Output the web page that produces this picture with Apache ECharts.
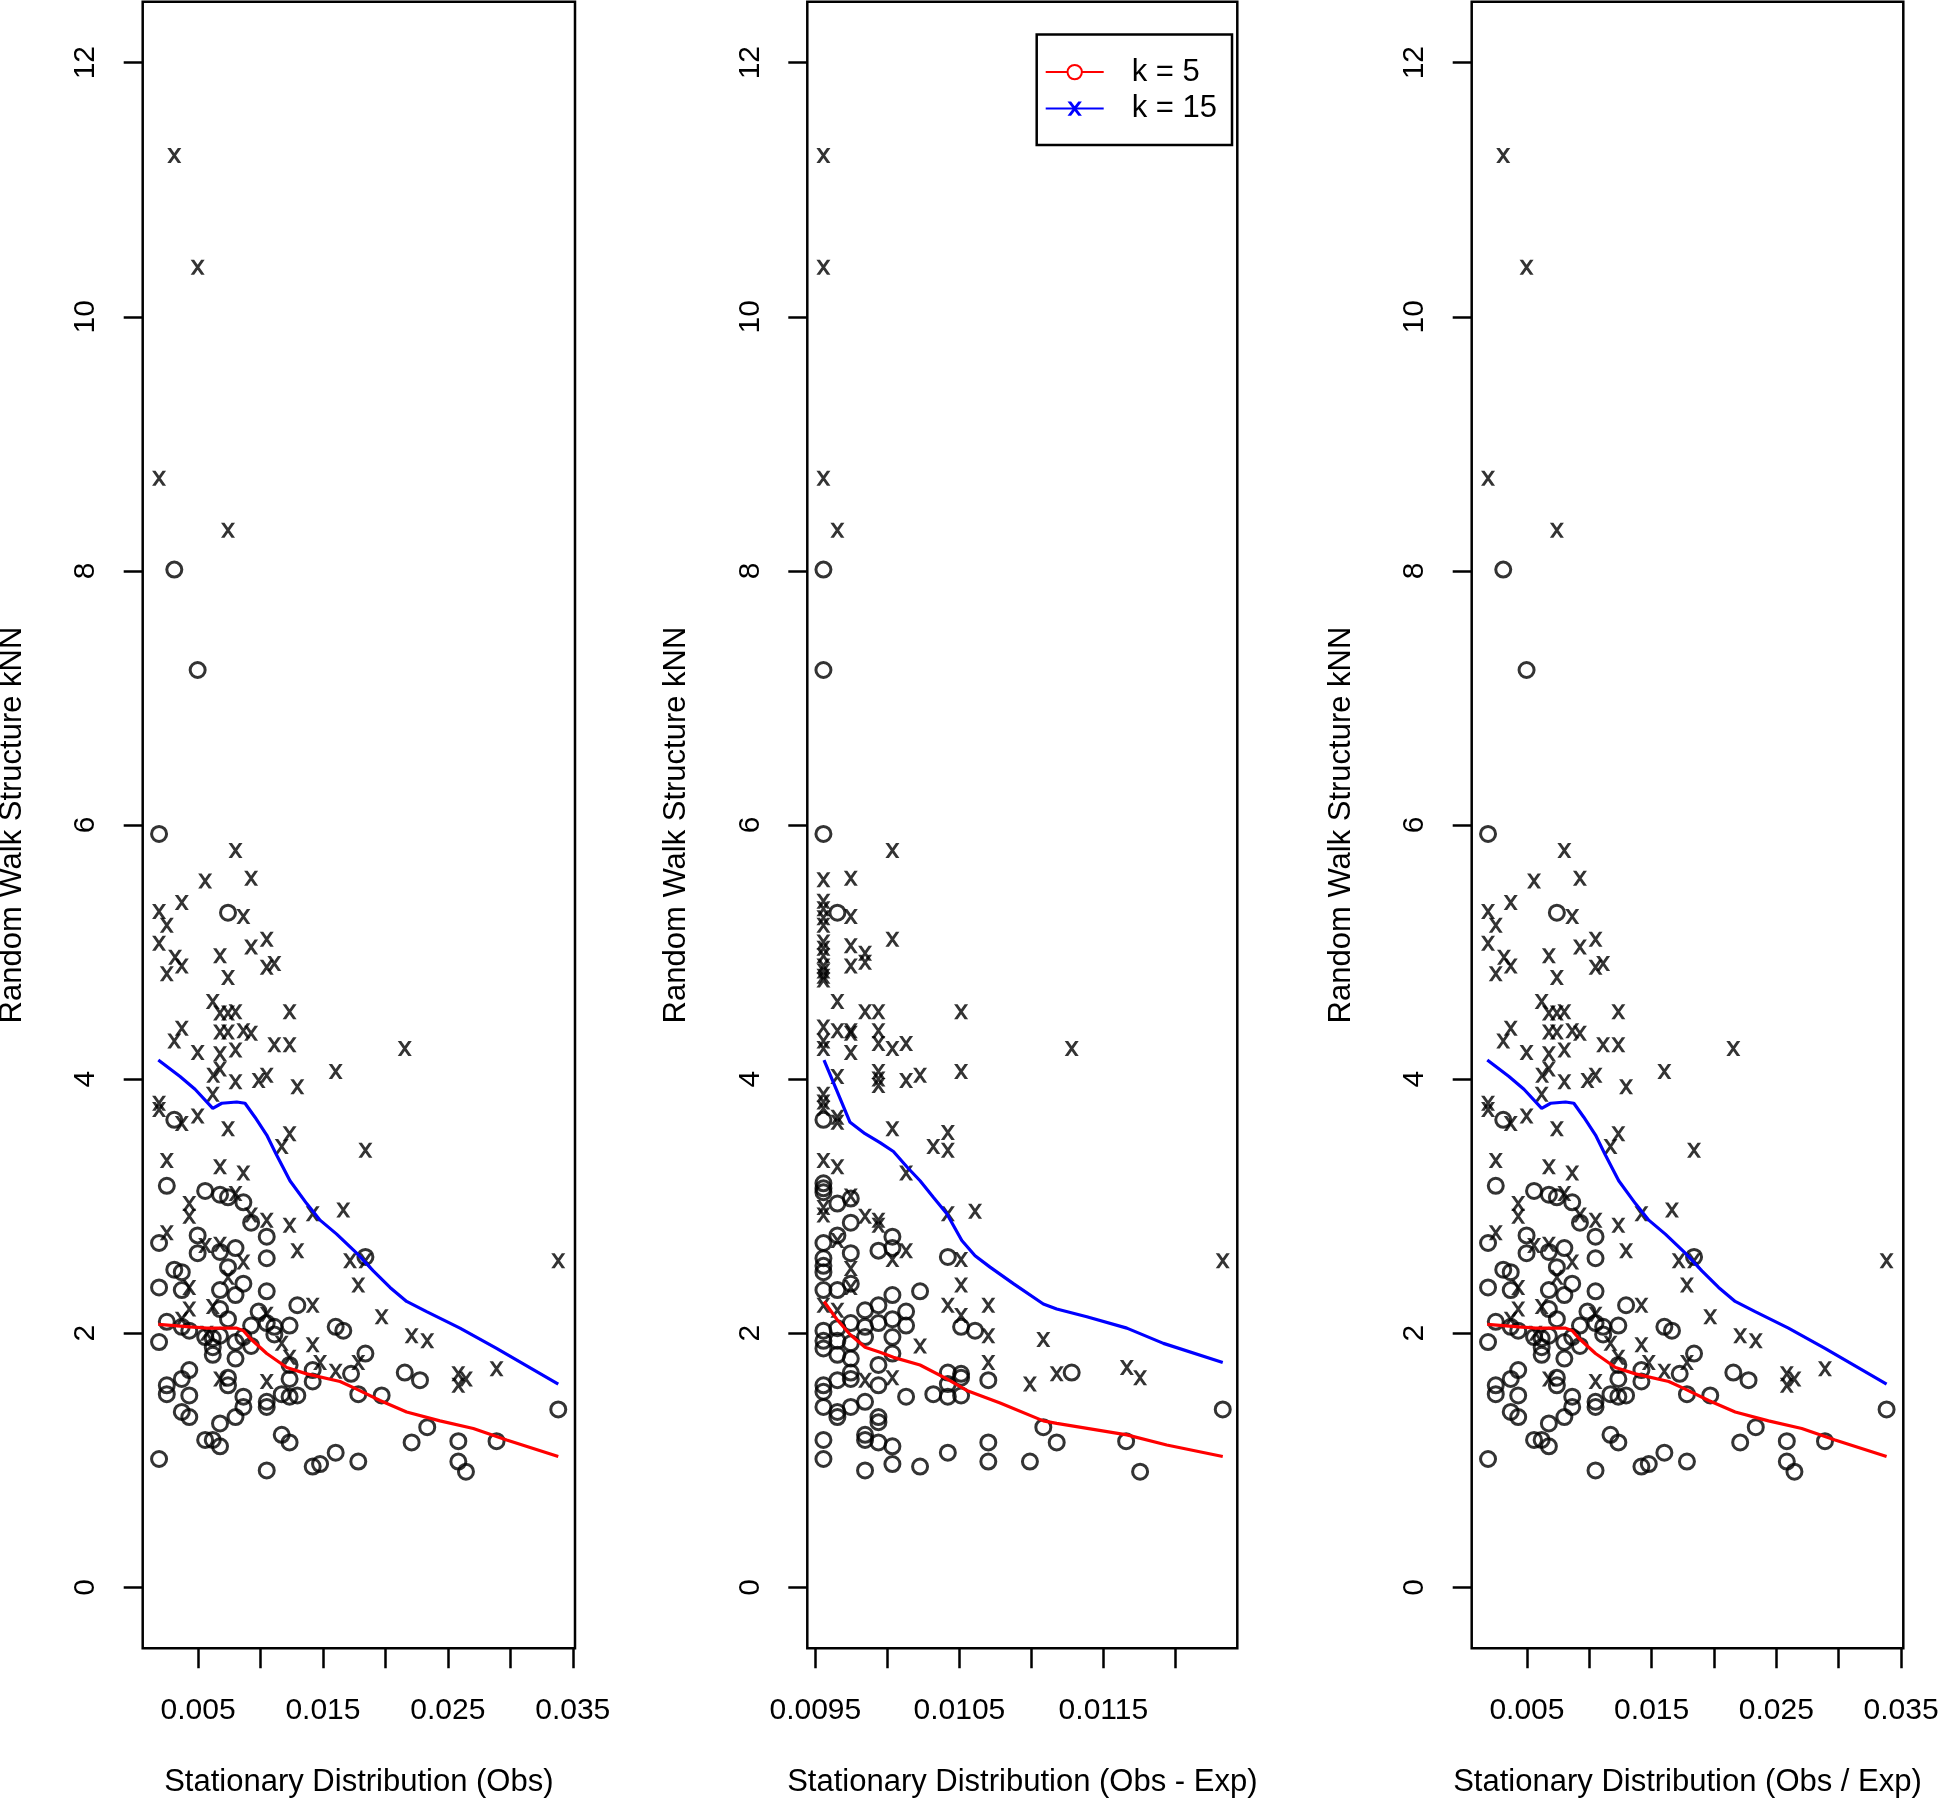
<!DOCTYPE html>
<html><head><meta charset="utf-8">
<script src="https://cdn.jsdelivr.net/npm/echarts@6/dist/echarts.min.js"></script>
<style>html,body{margin:0;padding:0;background:#fff}#c{width:1940px;height:1799px}</style>
</head><body><div id="c"></div>
<script>
// ---------- data: Obs panel (also Obs / Exp panel, identical picture) ----------
const obsCircleX = [0.0031,0.00497,0.00188,0.0074,0.0031,0.0025,0.00557,0.00676,0.0074,0.00863,0.00925,0.0105,0.00188,0.00497,0.00676,0.008,0.00497,0.0105,0.0074,0.0031,0.0037,0.0184,0.00188,0.0037,0.00676,0.00863,0.008,0.0105,0.00676,0.01295,0.0025,0.0037,0.0043,0.0074,0.00985,0.00925,0.0105,0.01111,0.01233,0.01602,0.01663,0.00557,0.00618,0.00676,0.00188,0.008,0.00863,0.00925,0.00618,0.00618,0.008,0.01111,0.0184,0.01233,0.01725,0.01418,0.02155,0.02277,0.0043,0.0037,0.0025,0.0025,0.0043,0.0074,0.0074,0.01233,0.01418,0.00863,0.00863,0.0105,0.0105,0.0117,0.01233,0.01295,0.01783,0.0197,0.0037,0.0043,0.008,0.00676,0.03384,0.02335,0.00557,0.00618,0.00676,0.0117,0.01233,0.0221,0.02584,0.0289,0.00188,0.01602,0.01783,0.02584,0.02645,0.0105,0.01418,0.01477];
const obsCircleY = [8.01,7.22,5.93,5.31,3.68,3.16,3.12,3.09,3.07,3.03,2.87,2.76,2.71,2.77,2.64,2.67,2.63,2.59,2.52,2.50,2.48,2.60,2.36,2.34,2.34,2.39,2.30,2.33,2.19,2.22,2.09,2.05,2.02,2.11,2.17,2.06,2.08,2.05,2.06,2.05,2.02,1.97,1.96,1.98,1.93,1.93,1.97,1.90,1.89,1.83,1.80,1.99,1.84,1.75,1.68,1.71,1.69,1.63,1.71,1.64,1.59,1.52,1.51,1.65,1.59,1.64,1.62,1.50,1.42,1.46,1.42,1.52,1.50,1.51,1.52,1.51,1.38,1.34,1.34,1.29,1.40,1.26,1.16,1.16,1.11,1.20,1.14,1.14,1.15,1.15,1.01,1.06,0.99,0.99,0.91,0.92,0.95,0.97];
const obsCrossX = [0.0031,0.00497,0.00188,0.0074,0.008,0.00557,0.00925,0.0037,0.00188,0.00863,0.0025,0.00188,0.0105,0.00925,0.00676,0.00316,0.0037,0.0025,0.0074,0.0105,0.01111,0.00618,0.00676,0.0074,0.008,0.01233,0.0037,0.0031,0.00676,0.0074,0.00863,0.00925,0.01111,0.01233,0.00497,0.00676,0.008,0.02155,0.00622,0.00676,0.008,0.00985,0.0105,0.01295,0.01602,0.00618,0.00188,0.00188,0.0037,0.00497,0.0074,0.01233,0.0117,0.0184,0.0025,0.00676,0.00863,0.008,0.0043,0.0043,0.00925,0.0105,0.01233,0.01418,0.01663,0.0025,0.00557,0.00676,0.01295,0.00863,0.01717,0.0184,0.0074,0.0043,0.01783,0.0043,0.00618,0.01418,0.0197,0.0037,0.0105,0.0221,0.02335,0.0057,0.0117,0.01233,0.01418,0.01783,0.01477,0.01602,0.02584,0.02645,0.02584,0.0289,0.00676,0.0105,0.03384];
const obsCrossY = [11.27,10.39,8.73,8.32,5.80,5.56,5.58,5.39,5.32,5.28,5.21,5.07,5.10,5.04,4.97,4.96,4.89,4.83,4.80,4.88,4.91,4.61,4.52,4.52,4.53,4.53,4.40,4.30,4.37,4.37,4.38,4.36,4.27,4.27,4.21,4.20,4.23,4.24,4.03,4.08,3.98,3.99,4.03,3.94,4.06,3.88,3.81,3.76,3.65,3.71,3.61,3.57,3.47,3.44,3.36,3.31,3.26,3.10,3.02,2.92,2.93,2.89,2.85,2.94,2.97,2.79,2.69,2.70,2.65,2.56,2.57,2.57,2.44,2.36,2.38,2.19,2.21,2.22,2.13,2.11,2.15,1.98,1.94,2.00,1.92,1.81,1.91,1.77,1.77,1.70,1.68,1.64,1.59,1.72,1.64,1.62,2.57];
const obsLine5X = [0.00182,0.00436,0.0057,0.0081,0.00863,0.00916,0.0105,0.0121,0.0137,0.01637,0.0177,0.01957,0.0217,0.02437,0.02704,0.02971,0.03384];
const obsLine5Y = [2.07,2.05,2.04,2.04,2.02,1.96,1.84,1.73,1.68,1.62,1.56,1.47,1.38,1.31,1.25,1.16,1.03];
const obsLine15X = [0.00182,0.00356,0.00476,0.00618,0.0069,0.0081,0.00876,0.00956,0.0105,0.0113,0.01236,0.0137,0.01477,0.0161,0.0177,0.01903,0.02037,0.0217,0.0233,0.02597,0.0289,0.03384];
const obsLine15Y = [4.15,4.02,3.92,3.77,3.81,3.82,3.81,3.70,3.56,3.40,3.20,3.02,2.89,2.78,2.63,2.49,2.36,2.25,2.17,2.04,1.88,1.60];

// ---------- data: Obs - Exp panel ----------
const diffCircleX = [0.009556,0.009556,0.009556,0.009653,0.009556,0.009556,0.009556,0.009556,0.009746,0.009653,0.009746,0.009653,0.010035,0.009556,0.009938,0.010035,0.009746,0.009556,0.009556,0.009556,0.01042,0.009556,0.009653,0.009746,0.010035,0.010227,0.009938,0.009845,0.01013,0.010035,0.01013,0.010512,0.010609,0.009556,0.009653,0.009746,0.009845,0.009845,0.009938,0.010035,0.009556,0.009556,0.009653,0.009746,0.009653,0.010035,0.009746,0.009938,0.009746,0.009746,0.01042,0.010512,0.010512,0.01128,0.009653,0.010701,0.01042,0.009556,0.009556,0.009556,0.009938,0.01013,0.010319,0.01042,0.010512,0.009845,0.009746,0.009653,0.009653,0.009938,0.009938,0.012329,0.011083,0.009556,0.009845,0.009845,0.009938,0.010035,0.010701,0.011176,0.011658,0.01042,0.009556,0.010701,0.01099,0.010035,0.009845,0.010227,0.011755];
const diffCircleY = [8.01,7.22,5.93,5.31,3.68,3.18,3.14,3.11,3.06,3.02,2.87,2.77,2.76,2.71,2.65,2.67,2.63,2.59,2.53,2.48,2.60,2.34,2.34,2.39,2.30,2.33,2.22,2.18,2.17,2.11,2.06,2.05,2.02,2.02,2.04,2.08,2.05,1.97,2.08,1.97,1.94,1.88,1.94,1.92,1.83,1.84,1.80,1.75,1.69,1.64,1.69,1.68,1.65,1.69,1.63,1.63,1.60,1.59,1.54,1.42,1.59,1.50,1.52,1.50,1.51,1.46,1.42,1.38,1.34,1.34,1.30,1.40,1.26,1.16,1.20,1.16,1.14,1.11,1.14,1.14,1.15,1.06,1.01,0.99,0.99,0.97,0.92,0.95,0.91];
const diffCrossX = [0.009556,0.009556,0.009556,0.009653,0.010035,0.009556,0.009746,0.009556,0.009556,0.009556,0.009556,0.009746,0.010035,0.009556,0.009556,0.009556,0.009746,0.009845,0.009845,0.009746,0.009556,0.009556,0.009556,0.009556,0.009653,0.009845,0.009938,0.010512,0.009556,0.009653,0.009746,0.009746,0.009938,0.009556,0.009938,0.010035,0.01013,0.01128,0.009556,0.009746,0.009653,0.009938,0.009938,0.009938,0.01013,0.010227,0.010512,0.009556,0.009556,0.009556,0.009653,0.009653,0.010035,0.01042,0.010319,0.01042,0.009556,0.009653,0.01013,0.009746,0.009556,0.009556,0.009845,0.009938,0.009938,0.01042,0.010609,0.009653,0.010035,0.01013,0.009746,0.010512,0.012329,0.009746,0.010512,0.009556,0.009653,0.01042,0.010701,0.010512,0.010701,0.011083,0.010227,0.010701,0.011176,0.011663,0.011755,0.009845,0.010035,0.01099];
const diffCrossY = [11.27,10.39,8.73,8.32,5.80,5.57,5.58,5.40,5.34,5.27,5.21,5.28,5.10,5.08,5.03,4.97,5.05,4.99,4.92,4.89,4.89,4.85,4.81,4.78,4.61,4.53,4.53,4.53,4.41,4.38,4.38,4.36,4.38,4.30,4.28,4.24,4.28,4.24,4.24,4.21,4.02,4.06,4.00,3.95,3.99,4.03,4.06,3.88,3.82,3.77,3.70,3.66,3.61,3.58,3.47,3.44,3.36,3.31,3.26,3.08,2.99,2.93,2.92,2.89,2.85,2.94,2.96,2.73,2.58,2.65,2.51,2.58,2.57,2.36,2.38,2.22,2.18,2.22,2.22,2.14,1.98,1.95,1.90,1.77,1.68,1.73,1.65,1.63,1.65,1.60];
const diffLine5X = [0.00956,0.009649,0.009741,0.009845,0.009949,0.010042,0.010227,0.010413,0.010551,0.010783,0.011083,0.011176,0.011663,0.01194,0.012329];
const diffLine5Y = [2.25,2.11,1.99,1.89,1.85,1.81,1.75,1.64,1.55,1.45,1.31,1.29,1.20,1.12,1.03];
const diffLine15X = [0.00956,0.009649,0.009741,0.009845,0.009949,0.010042,0.010135,0.010227,0.010319,0.010413,0.010517,0.010609,0.010713,0.010875,0.011083,0.011176,0.011385,0.011663,0.011917,0.012329];
const diffLine15Y = [4.15,3.91,3.66,3.57,3.50,3.43,3.31,3.20,3.07,2.94,2.73,2.61,2.52,2.39,2.23,2.19,2.13,2.04,1.92,1.77];

// ---------- ticks / labels ----------
const yTicks = [0, 2, 4, 6, 8, 10, 12];
const obsTicks = [0.005, 0.010, 0.015, 0.020, 0.025, 0.030, 0.035];
const obsTickLabels = [0.005, 0.015, 0.025, 0.035];
const diffTicks = [0.0095, 0.0100, 0.0105, 0.0110, 0.0115, 0.0120];
const diffTickLabels = [0.0095, 0.0105, 0.0115];
const xTitles = ['Stationary Distribution (Obs)', 'Stationary Distribution (Obs - Exp)', 'Stationary Distribution (Obs / Exp)'];
const yTitle = 'Random Walk Structure kNN';
const seriesNames = ['k = 5', 'k = 15'];

const FONT = '"Liberation Sans", Arial, Helvetica, sans-serif';
const XPATH = 'path://M0,0 L3.5,0 L14,15 L10.5,15 Z M10.5,0 L14,0 L3.5,15 L0,15 Z';
const zip = (a, b) => a.map((v, i) => [v, b[i]]);

const panels = [
  {left: 142.7, width: 432.3, min: 0.00057, max: 0.03518, ticks: obsTicks, labels: obsTickLabels, dec: 3,
   c: zip(obsCircleX, obsCircleY), x: zip(obsCrossX, obsCrossY), l5: zip(obsLine5X, obsLine5Y), l15: zip(obsLine15X, obsLine15Y)},
  {left: 807.3, width: 430, min: 0.009444, max: 0.01243, ticks: diffTicks, labels: diffTickLabels, dec: 4,
   c: zip(diffCircleX, diffCircleY), x: zip(diffCrossX, diffCrossY), l5: zip(diffLine5X, diffLine5Y), l15: zip(diffLine15X, diffLine15Y)},
  {left: 1471.7, width: 431.6, min: 0.00057, max: 0.03518, ticks: obsTicks, labels: obsTickLabels, dec: 3,
   c: zip(obsCircleX, obsCircleY), x: zip(obsCrossX, obsCrossY), l5: zip(obsLine5X, obsLine5Y), l15: zip(obsLine15X, obsLine15Y)}
];

const grid = [], xAxis = [], yAxis = [], series = [];
panels.forEach((p, i) => {
  grid.push({left: p.left, top: 1.7, width: p.width, height: 1646.6, show: true,
    borderColor: '#000', borderWidth: 2.5, backgroundColor: 'transparent', containLabel: false, outerBoundsMode: 'none'});
  xAxis.push({type: 'value', gridIndex: i, min: p.min, max: p.max, position: 'bottom',
    axisLine: {show: false, onZero: false}, splitLine: {show: false},
    axisTick: {show: true, inside: false, length: 20, lineStyle: {color: '#000', width: 2.5}, customValues: p.ticks},
    axisLabel: {customValues: p.labels, formatter: v => Number(v).toFixed(p.dec), fontSize: 30, lineHeight: 30,
      color: '#000', fontFamily: FONT, margin: 47, hideOverlap: false},
    name: xTitles[i], nameLocation: 'middle', nameGap: 119,
    nameTextStyle: {fontSize: 31, lineHeight: 31, color: '#000', fontFamily: FONT}});
  yAxis.push({type: 'value', gridIndex: i, min: -0.48, max: 12.48, position: 'left',
    axisLine: {show: false, onZero: false}, splitLine: {show: false},
    axisTick: {show: true, inside: false, length: 19, lineStyle: {color: '#000', width: 2.5}, customValues: yTicks},
    axisLabel: {customValues: yTicks, rotate: 90, fontSize: 30, lineHeight: 30, color: '#000', fontFamily: FONT, margin: 42},
    name: yTitle, nameLocation: 'middle', nameRotate: 90, nameGap: 115,
    nameTextStyle: {fontSize: 31, lineHeight: 31, color: '#000', fontFamily: FONT}});
  series.push({type: 'scatter', name: 'o' + i, xAxisIndex: i, yAxisIndex: i, data: p.c, symbol: 'circle', symbolSize: 15,
    itemStyle: {color: 'rgba(0,0,0,0)', borderColor: '#000', borderWidth: 3}, silent: true, z: 2});
  series.push({type: 'scatter', name: 'x' + i, xAxisIndex: i, yAxisIndex: i, data: p.x, symbol: XPATH, symbolSize: [14, 15],
    itemStyle: {color: '#000'}, silent: true, z: 2});
  series.push({type: 'line', name: seriesNames[0], xAxisIndex: i, yAxisIndex: i, data: p.l5, showSymbol: false,
    symbol: 'emptyCircle', lineStyle: {color: '#ff0000', width: 3.2}, itemStyle: {color: '#ff0000'}, silent: true, z: 3});
  series.push({type: 'line', name: seriesNames[1], xAxisIndex: i, yAxisIndex: i, data: p.l15, showSymbol: false,
    symbol: XPATH, symbolKeepAspect: true, lineStyle: {color: '#0000ff', width: 3.2}, itemStyle: {color: '#0000ff'}, silent: true, z: 3});
});

const chart = echarts.init(document.getElementById('c'), null, {renderer: 'canvas'});
chart.setOption({
  animation: false,
  backgroundColor: '#fff',
  grid, xAxis, yAxis, series,
  legend: {data: seriesNames, orient: 'vertical', left: 1036.7, top: 34.6,
    padding: [22, 15, 21, 8], itemWidth: 58, itemHeight: 18, itemGap: 5.5,
    borderColor: '#000', borderWidth: 2.5, borderRadius: 0, backgroundColor: '#fff',
    selectedMode: false,
    textStyle: {fontSize: 31, lineHeight: 31, color: '#000', fontFamily: FONT, padding: [0, 0, 0, 23]}}
});
</script></body></html>
